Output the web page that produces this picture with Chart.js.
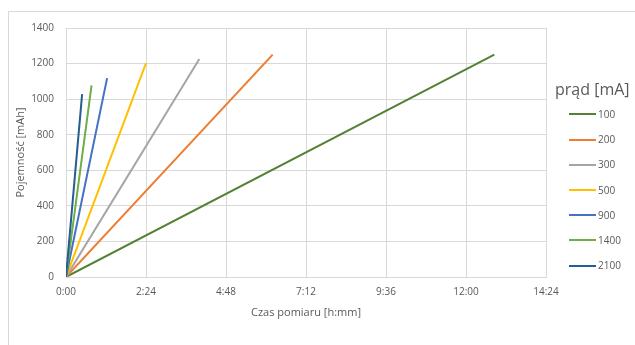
<!DOCTYPE html>
<html>
<head>
<meta charset="utf-8">
<script src="https://cdn.jsdelivr.net/npm/chart.js@4"></script>
<style>
    body { margin: 0; background: #fff; }
    #wrap { position: relative; width: 635px; height: 345px; overflow: hidden; font-family: 'Open Sans', sans-serif; }
    #frame { position: absolute; left: 8px; top: 11px; width: 700px; height: 400px; border-top: 1px solid #d9d9d9; border-left: 1px solid #d9d9d9; }
    #chart { position: absolute; left: 0; top: 0; }
    #legend { position: absolute; left: 555px; top: 78px; color: #595959; }
    #legend .title { font-size: 16px; line-height: 22px; margin-left: 0; }
    #legend .item { position: absolute; left: 14px; height: 12px; font-size: 10px; line-height: 12px; white-space: nowrap; }
    #legend .item span.line { display: inline-block; width: 27px; height: 2px; vertical-align: middle; margin-right: 2px; position: relative; top: -1px; }
</style>
</head>
<body>
<div id="wrap">
    <div id="frame"></div>
    <canvas id="chart" width="635" height="345"></canvas>
    <div id="legend"><div class="title">prąd [mA]</div></div>
</div>
<script>
// current of each measurement [mA]
const currents = [100, 200, 300, 500, 900, 1400, 2100];
// end of each discharge, minutes from start
const endMinutes = [771, 372, 240, 144, 74, 46, 29];
// capacity reached at the end [mAh]
const endCapacity = [1250, 1250, 1226, 1202, 1118, 1078, 1028];
const colors = ['#548235', '#ED7D31', '#A5A5A5', '#FFC000', '#4472C4', '#70AD47', '#255E91'];

const xTicks = [0, 144, 288, 432, 576, 720, 864];
const yTicks = [0, 200, 400, 600, 800, 1000, 1200, 1400];

function hmm(min) {
    const h = Math.floor(min / 60);
    const m = Math.round(min % 60);
    return h + ':' + String(m).padStart(2, '0');
}

Chart.defaults.font.family = "'Open Sans', sans-serif";
Chart.defaults.color = '#595959';

const datasets = currents.map(function(c, i) {
    return {
        label: String(c),
        data: [{x: 0, y: 0}, {x: endMinutes[i], y: endCapacity[i]}],
        borderColor: colors[i],
        backgroundColor: colors[i],
        borderWidth: 2,
        pointRadius: 0,
        tension: 0,
        order: currents.length - i
    };
});

new Chart(document.getElementById('chart'), {
    type: 'line',
    data: { datasets: datasets },
    options: {
        responsive: false,
        animation: false,
        layout: { padding: { left: 8, top: 28, right: 89, bottom: 0 } },
        plugins: {
            legend: { display: false },
            tooltip: { enabled: false }
        },
        scales: {
            x: {
                type: 'linear',
                min: 0,
                max: 864,
                afterBuildTicks: function(s) { s.ticks = xTicks.map(v => ({value: v})); },
                afterFit: function(s) { s.height = 68; },
                grid: { color: '#d9d9d9', drawTicks: false },
                border: { color: '#d9d9d9' },
                ticks: { padding: 9, font: { size: 10 }, callback: v => hmm(v), maxRotation: 0 },
                title: { display: true, text: 'Czas pomiaru [h:mm]', font: { size: 11 }, padding: { top: 0, bottom: 26 } }
            },
            y: {
                min: 0,
                max: 1400,
                afterBuildTicks: function(s) { s.ticks = yTicks.map(v => ({value: v})); },
                afterFit: function(s) { s.width = 58; },
                grid: { color: '#d9d9d9', drawTicks: false },
                border: { display: false },
                ticks: { padding: 12, font: { size: 10 }, callback: v => String(v) },
                title: { display: true, text: 'Pojemność [mAh]', font: { size: 11 }, padding: { top: 6, bottom: 0 } }
            }
        }
    }
});

// legend built from the same series
const legend = document.getElementById('legend');
currents.forEach(function(c, i) {
    const row = document.createElement('div');
    row.className = 'item';
    row.style.top = (30 + i * 25.2) + 'px';
    row.innerHTML = '<span class="line" style="background:' + colors[i] + '"></span>' + c;
    legend.appendChild(row);
});
</script>
</body>
</html>
